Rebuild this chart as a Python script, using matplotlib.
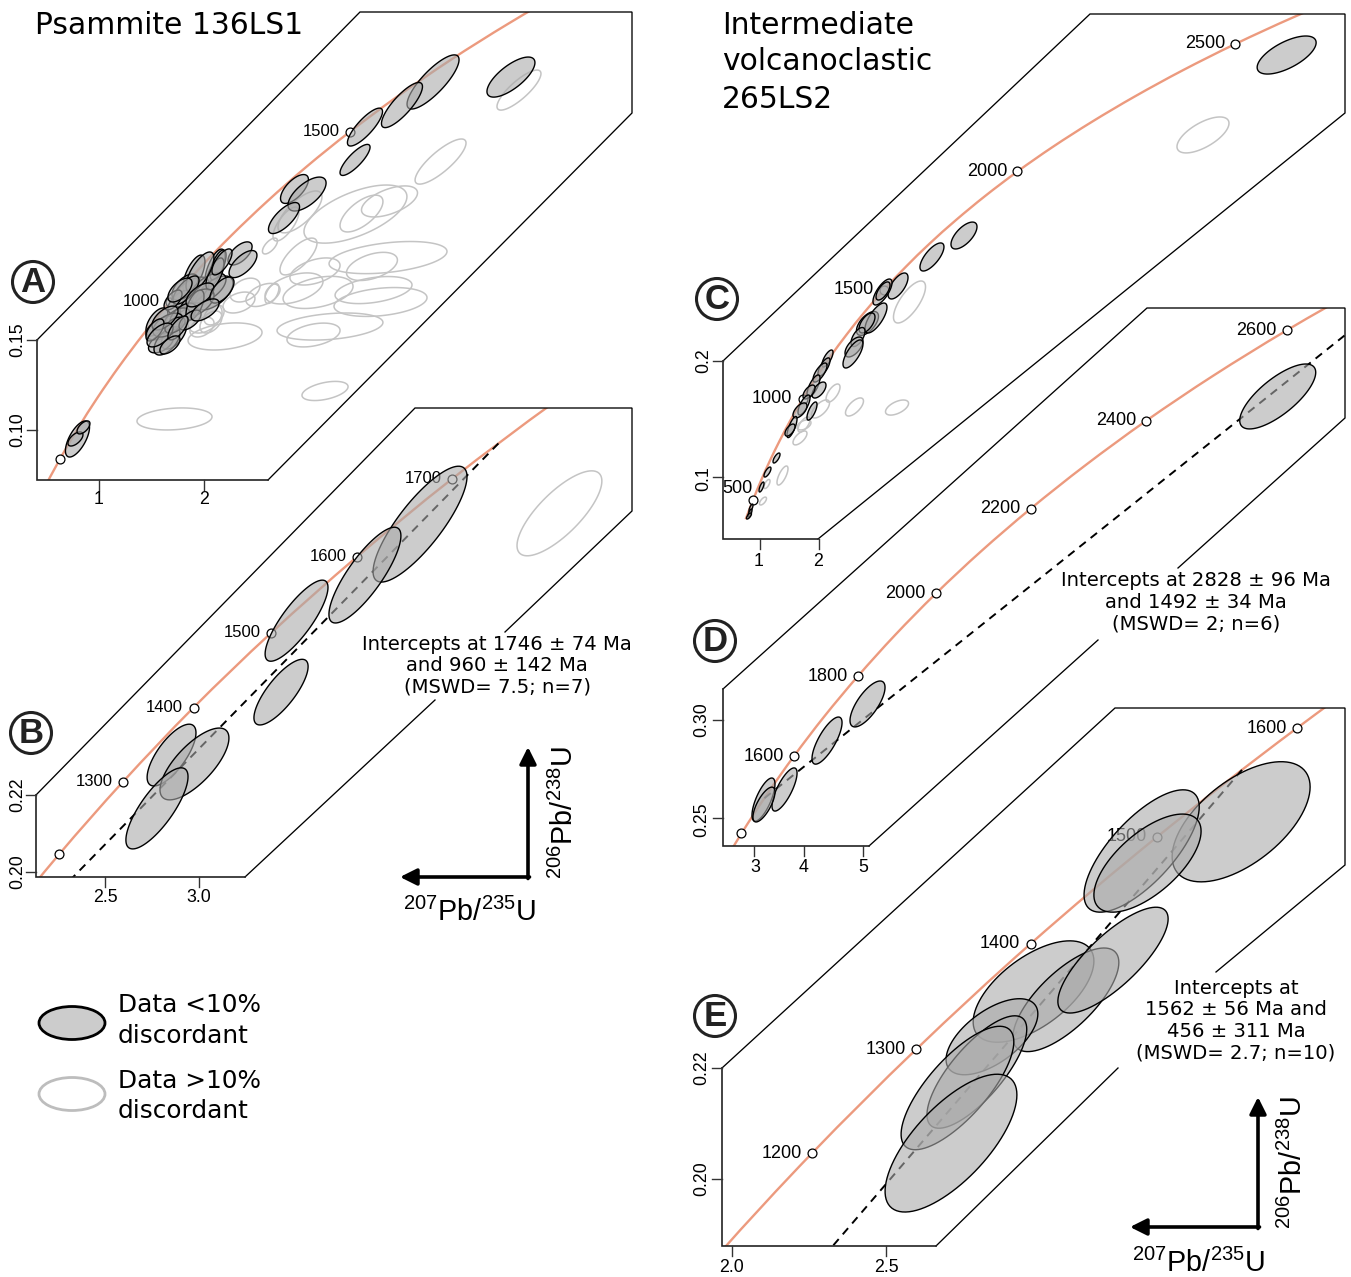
import numpy as np
import matplotlib
matplotlib.use('Agg')
import matplotlib.pyplot as plt
from matplotlib.path import Path
from matplotlib.patches import Ellipse, Circle, PathPatch

plt.rcParams['font.family'] = ['Liberation Sans', 'DejaVu Sans']
plt.rcParams['mathtext.fontset'] = 'custom'
plt.rcParams['mathtext.rm'] = 'Liberation Sans'
plt.rcParams['mathtext.default'] = 'rm'

# concordia, age in Ma, 207Pb/235U, 206Pb/238U
conc_age = [400, 500, 600, 700, 800, 900, 1000, 1100, 1200, 1300, 1400, 1500, 1600, 1700,
            1800, 1900, 2000, 2100, 2200, 2300, 2400, 2500, 2600, 2700, 2800]
conc_x = [.4828, .6363, .8056, .9925, 1.1987, 1.4263, 1.6774, 1.9545, 2.2603, 2.5978, 2.9701, 3.3811, 3.8345, 4.3348,
          4.8870, 5.4963, 6.1687, 6.9107, 7.7295, 8.6331, 9.630, 10.730, 11.944, 13.284, 14.763]
conc_y = [.0640, .0806, .0975, .1147, .1321, .1498, .1678, .1861, .2046, .2234, .2426, .2620, .2817, .3018,
          .3221, .3428, .3638, .3851, .4067, .4287, .4511, .4738, .4968, .5202, .5440]

# panel A, concordant
a_x = [4.903, 4.166, 3.872, 3.522, 3.428, 2.855, 2.974, 2.756, 2.340, 2.368, 1.904, 2.103, 2.132, 2.094, 1.876, 1.781, 1.819,
       2.037, 2.103, 1.933, 1.554, 1.611, 1.715, 1.592, 1.649, 1.744, 1.800, 1.658, 1.914, 1.725, .802, .783, .859,
       1.961, 2.169, 1.829, 1.706, 1.961, 2.169, 1.630, 1.535, 1.867, 1.583, 1.753, 1.677, 2.009, 1.772]
a_sx = [.227, .246, .194, .166, .142, .132, .180, .147, .114, .132, .104, .095, .076, .180, .170, .123, .123,
        .170, .085, .161, .104, .161, .118, .118, .123, .123, .123, .142, .085, .095, .114, .071, .061,
        .132, .095, .123, .085, .132, .114, .123, .085, .104, .123, .095, .095, .132, .114]
a_y = [.2922, .2895, .2767, .2645, .2463, .2302, .2274, .2141, .1945, .1886, .1831, .1864, .1881, .1726, .1731, .1676, .1759,
       .1753, .1831, .1670, .1565, .1532, .1493, .1449, .1460, .1582, .1604, .1548, .1659, .1548, .0917, .0917, .0981,
       .1842, .1898, .1742, .1687, .1715, .1742, .1587, .1521, .1576, .1493, .1532, .1438, .1632, .1742]
a_sy = [.0111, .0150, .0125, .0105, .0086, .0080, .0094, .0086, .0064, .0075, .0105, .0105, .0083, .0094, .0083, .0066, .0072,
        .0083, .0089, .0078, .0078, .0066, .0078, .0055, .0078, .0061, .0066, .0066, .0083, .0044, .0100, .0039, .0036,
        .0111, .0072, .0078, .0055, .0066, .0072, .0066, .0061, .0055, .0066, .0066, .0050, .0061, .0066]
a_rho = [.72, .82, .82, .82, .82, .65, .65, .72, .6, .65, .65, .65, .65, .58, .58, .55, .58,
         .58, .65, .55, .58, .5, .58, .5, .58, .5, .55, .5, .58, .5, .65, .6, .6,
         .7, .7, .7, .6, .6, .6, .6, .6, .6, .6, .7, .6, .6, .6]
# panel A, discordant
ag_x = [4.979, 4.237, 3.432, 3.489, 3.754, 2.893, 2.623, 2.775, 2.907, 3.740, 3.588, 3.049, 3.078, 2.851, 3.603,
        3.669, 3.191, 3.035, 2.642, 2.557, 2.387, 2.330, 2.198, 2.009, 2.065, 1.980, 2.094, 3.144, 1.720]
ag_sx = [.208, .241, .487, .203, .265, .175, .071, .123, .208, .558, .241, .237, .331, .274, .364,
         .440, .501, .251, .066, .161, .142, .151, .350, .161, .104, .114, .095, .218, .355]
ag_y = [.2850, .2454, .2163, .2166, .2233, .1928, .1986, .2108, .2175, .1922, .1873, .1845, .1729, .1751, .1742,
        .1676, .1540, .1493, .1723, .1715, .1742, .1673, .1485, .1587, .1565, .1537, .1604, .1183, .1028]
ag_sy = [.0111, .0125, .0161, .0102, .0086, .0102, .0044, .0094, .0116, .0089, .0078, .0075, .0089, .0086, .0075,
         .0080, .0075, .0066, .0055, .0064, .0066, .0058, .0075, .0083, .0061, .0055, .0055, .0053, .0061]
ag_rho = [.82, .82, .6, .65, .55, .72, .65, .72, .72, .38, .45, .45, .38, .45, .38,
          .3, .3, .38, .55, .45, .38, .38, .3, .38, .45, .38, .38, .45, .2]

# panel B
b_x = [4.166, 3.875, 3.514, 3.432, 2.854, 2.975, 2.777]
b_sx = [.248, .190, .166, .143, .129, .182, .164]
b_y = [.2901, .2769, .2651, .2466, .2303, .2280, .2165]
b_sy = [.0150, .0124, .0105, .0085, .0080, .0093, .0105]
b_rho = [.82, .82, .82, .78, .72, .72, .78]
bg_x = [4.902]
bg_sx = [.224]
bg_y = [.2929]
bg_sy = [.0110]
bg_rho = [.76]
b_disc_x = [1.574, 4.582]
b_disc_y = [.1607, .3111]

# panel C
c_x = [11.80, 5.05, 4.38, 3.67, 3.345, 3.356, 3.031, 3.209, 3.021, 2.833, 2.749, 2.728, 2.195, 2.121, 2.038,
       1.902, 2.017, 1.808, 1.703, 1.619, 1.870, 1.452, 1.410, 1.128, .939, .814, .594, .573, .552]
c_sx = [.617, .272, .251, .209, .199, .146, .230, .230, .167, .146, .188, .209, .115, .126, .146,
        .136, .146, .126, .126, .146, .105, .105, .105, .073, .073, .052, .042, .042, .052]
c_y = [.4642, .3086, .2901, .2651, .2599, .2608, .2328, .2375, .2332, .2211, .2125, .2065, .2026, .1953, .1905,
       .1789, .1754, .1737, .1625, .1578, .1573, .1435, .1409, .1168, .1047, .0918, .0737, .0694, .0668]
c_sy = [.0164, .0116, .0121, .0112, .0112, .0078, .0103, .0129, .0086, .0082, .0086, .0121, .0073, .0078, .0082,
        .0095, .0069, .0060, .0086, .0065, .0078, .0091, .0052, .0043, .0043, .0043, .0034, .0034, .0026]
c_rho = [.65, .65, .72, .65, .72, .65, .6, .72, .6, .6, .6, .72, .72, .72, .72,
         .72, .6, .6, .72, .6, .72, .76, .6, .72, .72, .72, .72, .72, .72]
cg_x = [10.05, 3.910, 2.310, 2.048, 2.759, 3.649, 1.703, 1.703, 1.619, 1.253, .929, .845]
cg_sx = [.544, .335, .146, .188, .188, .241, .126, .146, .146, .115, .063, .073]
cg_y = [.3953, .2513, .1728, .1591, .1608, .1603, .1457, .1453, .1341, .1017, .0944, .0797]
cg_sy = [.0155, .0181, .0078, .0078, .0078, .0065, .0065, .0043, .0060, .0082, .0039, .0034]
cg_rho = [.65, .72, .65, .65, .65, .55, .65, .45, .65, .72, .65, .65]

# panel D
d_x = [11.79, 5.043, 4.377, 3.678, 3.332, 3.340]
d_sx = [.625, .288, .247, .206, .189, .181]
d_y = [.4633, .3080, .2895, .2648, .2597, .2572]
d_sy = [.0164, .0116, .0119, .0109, .0109, .0088]
d_rho = [.74, .72, .76, .76, .72, .72]
d_disc_x = [3.347, 15.20]
d_disc_y = [.2604, .5507]

# panel E
e_x = [3.653, 3.330, 3.349, 2.979, 3.084, 3.237, 2.844, 2.795, 2.732, 2.711]
e_sx = [.224, .187, .174, .196, .172, .179, .149, .162, .183, .214]
e_y = [.2647, .2594, .2572, .2339, .2324, .2396, .2257, .2193, .2164, .2064]
e_sy = [.0109, .0111, .0089, .0092, .0094, .0096, .0069, .0102, .0112, .0125]
e_rho = [.58, .72, .65, .6, .72, .78, .6, .76, .75, .7]
e_disc_x = [.5669, 3.657]
e_disc_y = [.0733, .2742]

W, H = 1351, 1277
CURVE = '#EC9A7E'
FILL = (.667, .667, .667, .6)
GREY = '#c4c4c4'

fig = plt.figure(figsize=(W / 100, H / 100), dpi=100)

# sheet in picture pixels for frames, ticks and text
deco = fig.add_axes([0, 0, 1, 1], zorder=10)
deco.set_xlim(0, W)
deco.set_ylim(H, 0)
deco.axis('off')
deco.patch.set_visible(False)


def panel(xoff, xscale, yoff, yscale, outline):
    ax = fig.add_axes([0, 0, 1, 1], zorder=5)
    ax.set_xlim((0 + xoff) / xscale, (W + xoff) / xscale)
    ax.set_ylim((yoff - H) / yscale, yoff / yscale)
    ax.axis('off')
    ax.patch.set_visible(False)
    ax.clip = Path(outline + [outline[0]])
    # smooth bezier through the concordia points
    pts = np.column_stack([conc_x, conc_y])
    verts = [pts[0]]
    codes = [Path.MOVETO]
    for i in range(len(pts) - 1):
        before = pts[max(i - 1, 0)]
        after = pts[min(i + 2, len(pts) - 1)]
        verts += [pts[i] + (pts[i + 1] - before) / 6, pts[i + 1] - (after - pts[i]) / 6, pts[i + 1]]
        codes += [Path.CURVE4, Path.CURVE4, Path.CURVE4]
    curve = PathPatch(Path(verts, codes), fill=False, edgecolor=CURVE, lw=1.7, zorder=1)
    ax.add_patch(curve)
    curve.set_clip_path(ax.clip, deco.transData)
    return ax


def ellipses(ax, x, sx, y, sy, rho, black=True):
    t = np.linspace(0, 2 * np.pi, 90)
    for i in range(len(x)):
        ex = x[i] + sx[i] * np.cos(t)
        ey = y[i] + sy[i] * (rho[i] * np.cos(t) + np.sqrt(1 - rho[i] ** 2) * np.sin(t))
        if black:
            ax.fill(ex, ey, facecolor=FILL, edgecolor='black', lw=1.0, zorder=4)
        else:
            ax.fill(ex, ey, facecolor='none', edgecolor=GREY, lw=1.1, zorder=3)


def ages(ax, shown, labelled, above=(), size=12):
    for a in shown:
        i = conc_age.index(a)
        ax.plot(conc_x[i], conc_y[i], 'o', ms=6.4, mfc='white', mec='black', mew=0.9, zorder=2.5)
        if a in above:
            ax.annotate(str(a), (conc_x[i], conc_y[i]), xytext=(0, 8), textcoords='offset points',
                        ha='right', va='center', fontsize=size, zorder=2)
        elif a in labelled:
            ax.annotate(str(a), (conc_x[i], conc_y[i]), xytext=(-7.5, 0), textcoords='offset points',
                        ha='right', va='center', fontsize=size, zorder=2)


def discordia(ax, x, y):
    line, = ax.plot(x, y, color='black', lw=1.4, dashes=(4.2, 3.2), zorder=1.5)
    line.set_clip_path(ax.clip, deco.transData)


def frame(segments, left, bottom, top_y, right_x):
    for seg in segments:
        deco.plot([p[0] for p in seg], [p[1] for p in seg], color='black', lw=0.95, solid_joinstyle='miter')
    deco.plot([left, left, right_x], [top_y, bottom, bottom], color='#222222', lw=1.2, solid_joinstyle='miter')


def ticks(left, bottom, xt, yt, xlabels, ylabels, xl_y, yl_x):
    for tx, lab in zip(xt, xlabels):
        deco.plot([tx[0], tx[0]], [bottom, bottom + 10], color='#333333', lw=1.0)
        deco.text(tx[1], xl_y, lab, ha='center', va='center', fontsize=12.8)
    for ty, lab in zip(yt, ylabels):
        deco.plot([left - 10, left], [ty[0], ty[0]], color='#333333', lw=1.0)
        deco.text(yl_x, ty[1], lab, ha='center', va='center', rotation=90, fontsize=12.8)


def letter(x, y, s):
    deco.add_patch(Circle((x, y), 20.5, facecolor='white', edgecolor='#222222', lw=2.2, zorder=6))
    deco.text(x, y + 0.5, s, ha='center', va='center', fontsize=25, fontweight='bold', color='#222222', zorder=7)


def axis_arrows(x, y, xlab, ylab):
    style = '-|>,head_width=0.5,head_length=1.0'
    deco.annotate('', xy=(x, y - 130), xytext=(x, y + 1.5),
                  arrowprops=dict(arrowstyle=style, lw=2.6, color='black', shrinkA=0, shrinkB=0))
    deco.annotate('', xy=(x - 128, y), xytext=(x + 1.5, y),
                  arrowprops=dict(arrowstyle=style, lw=2.6, color='black', shrinkA=0, shrinkB=0))
    deco.text(xlab[0], xlab[1], r'$^{207}$Pb/$^{235}$U', ha='center', va='center', fontsize=20.7)
    deco.text(ylab[0], ylab[1], r'$^{206}$Pb/$^{238}$U', ha='center', va='center', fontsize=20.7, rotation=90)


def note(x, lines, y0, dy=21.6):
    for i, s in enumerate(lines):
        deco.text(x, y0 + i * dy, s, ha='center', va='center', fontsize=14.1, family='DejaVu Sans')


# A
ax = panel(7.3, 105.7, 604.5, 1805, [(37, 480), (37, 340), (360, 12), (632, 12), (632, 113), (268, 480)])
ages(ax, [500, 1000, 1500], [1000, 1500])
ellipses(ax, ag_x, ag_sx, ag_y, ag_sy, ag_rho, black=False)
ellipses(ax, a_x, a_sx, a_y, a_sy, a_rho)
frame([[(37, 340), (360, 12), (632, 12), (632, 113), (268, 480)]], 37, 480, 340, 268)
ticks(37, 480, [(98.5, 98.5), (204, 204)], [(430, 430), (340, 340)], ['1', '2'], ['0.10', '0.15'], 499, 18)

# B
ax = panel(369, 189.4, 1644.5, 3862, [(36, 877), (36, 795), (415, 408), (632, 408), (632, 511), (245, 877)])
ages(ax, [1200, 1300, 1400, 1500, 1600, 1700], [1300, 1400, 1500, 1600, 1700])
discordia(ax, b_disc_x, b_disc_y)
ellipses(ax, bg_x, bg_sx, bg_y, bg_sy, bg_rho, black=False)
ellipses(ax, b_x, b_sx, b_y, b_sy, b_rho)
frame([[(36, 795), (415, 408), (632, 408), (632, 511), (505, 632)], [(435, 700), (245, 877)]], 36, 877, 795, 245)
ticks(36, 877, [(105, 105), (199, 199)], [(872, 872), (795, 795)], ['2.5', '3.0'], ['0.20', '0.22'], 897, 18)

# C
ax = panel(-722.6, 47.8, 593.5, 1160, [(723, 539), (723, 361), (1090, 14), (1345, 14), (1345, 113), (818, 539)])
ages(ax, [500, 1000, 1500, 2000, 2500], [1000, 1500, 2000, 2500], above=[500], size=13)
ellipses(ax, cg_x, cg_sx, cg_y, cg_sy, cg_rho, black=False)
ellipses(ax, c_x, c_sx, c_y, c_sy, c_rho)
frame([[(723, 361), (1090, 14), (1345, 14), (1345, 113), (818, 539)]], 723, 539, 361, 818)
ticks(723, 539, [(760, 759), (818.5, 818.5)], [(477, 479), (361, 361)], ['1', '2'], ['0.1', '0.2'], 561, 704)

# D
ax = panel(-560.9, 60.8, 1313.8, 1980, [(723, 846), (723, 689), (1147, 308), (1345, 308), (1345, 418), (869, 846)])
ages(ax, [1400, 1600, 1800, 2000, 2200, 2400, 2600], [1600, 1800, 2000, 2200, 2400, 2600], size=13)
discordia(ax, d_disc_x, d_disc_y)
ellipses(ax, d_x, d_sx, d_y, d_sy, d_rho)
frame([[(723, 689), (1147, 308), (1345, 308), (1345, 418), (1178, 568)], [(1098, 640), (869, 846)]], 723, 846, 689, 869)
ticks(723, 846, [(754, 755), (804, 804), (863, 863)], [(818, 820), (720, 720)], ['3', '4', '5'], ['0.25', '0.30'], 868, 702)

# E
ax = panel(-116, 308, 2280.8, 5512, [(722, 1246), (722, 1068), (1115, 708), (1345, 708), (1345, 865), (936, 1246)])
ages(ax, [1200, 1300, 1400, 1500, 1600], [1200, 1300, 1400, 1500, 1600], size=13)
discordia(ax, e_disc_x, e_disc_y)
ellipses(ax, e_x, e_sx, e_y, e_sy, e_rho)
frame([[(722, 1068), (1115, 708), (1345, 708), (1345, 865), (1216, 972)], [(1118, 1068), (936, 1246)]], 722, 1246, 1068, 936)
ticks(722, 1246, [(732, 732), (886, 886)], [(1179, 1179), (1068, 1068)], ['2.0', '2.5'], ['0.20', '0.22'], 1267, 702)

letter(33, 282, 'A')
letter(31, 733, 'B')
letter(717, 299, 'C')
letter(715, 641, 'D')
letter(715, 1016, 'E')

axis_arrows(528, 877, (469, 912), (564, 813))
axis_arrows(1258, 1227, (1198, 1263), (1293, 1163))

note(497, ['Intercepts at 1746 \u00b1 74 Ma', 'and 960 \u00b1 142 Ma', '(MSWD= 7.5; n=7)'], 644)
note(1196, ['Intercepts at 2828 \u00b1 96 Ma', 'and 1492 \u00b1 34 Ma', '(MSWD= 2; n=6)'], 581)
note(1236, ['Intercepts at', '1562 \u00b1 56 Ma and', '456 \u00b1 311 Ma', '(MSWD= 2.7; n=10)'], 988)

deco.text(35, 25, 'Psammite 136LS1', fontsize=21.4, family='DejaVu Sans', va='center')
for s, y in zip(['Intermediate', 'volcanoclastic', '265LS2'], [25, 62, 99]):
    deco.text(722, y, s, fontsize=21.4, family='DejaVu Sans', va='center')

# legend
deco.add_patch(Ellipse((72, 1023), 66, 33, facecolor='#cccccc', edgecolor='black', lw=2.0))
deco.add_patch(Ellipse((72, 1094), 66, 33, facecolor='white', edgecolor='#bdbdbd', lw=2.0))
for s, y in zip(['Data <10%', 'discordant', 'Data >10%', 'discordant'], [1005, 1036, 1081, 1111]):
    deco.text(118, y, s, fontsize=17.8, family='DejaVu Sans', va='center')

fig.savefig('out.png', dpi=100)
